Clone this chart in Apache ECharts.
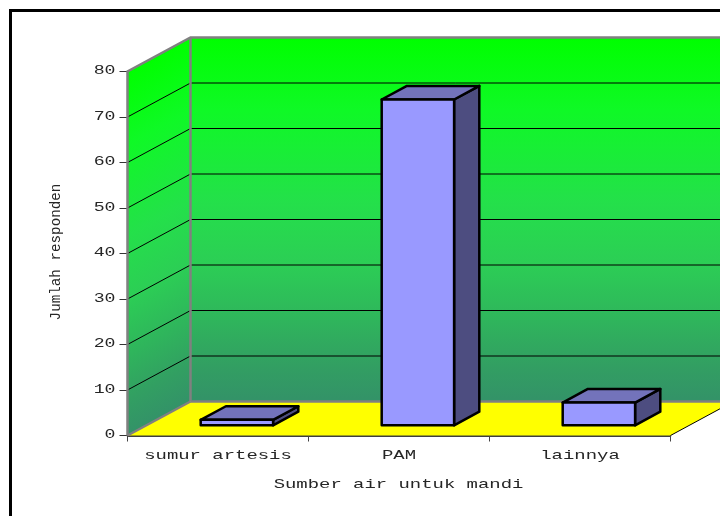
<!DOCTYPE html>
<html>
<head>
<meta charset="utf-8">
<style>html,body{margin:0;padding:0;background:#fff;overflow:hidden}#chart{width:720px;height:516px}</style>
<script src="https://cdn.jsdelivr.net/npm/echarts@6/dist/echarts.min.js"></script>
</head>
<body>
<div id="chart"></div>
<script>
// Water sources for bathing, number of respondents
var categories = ['sumur artesis', 'PAM', 'lainnya'];
var respondents = [1.2, 71.6, 5];
var valueTicks = [0, 10, 20, 30, 40, 50, 60, 70, 80];
var xTitle = 'Sumber air untuk mandi';
var yTitle = 'Jumlah responden';

// Oblique projection of the depth axis, in pixels
var DEPTH_X = 63, DEPTH_Y = -34;
var BAR_NEAR = 0.3, BAR_FAR = 0.7, BAR_WIDTH = 0.4;
var MONO = '"Liberation Mono", monospace';

function deep(p, t) { return [p[0] + DEPTH_X * t, p[1] + DEPTH_Y * t]; }

function face(points, fill, stroke, width) {
  return {
    type: 'polygon',
    shape: { points: points },
    style: { fill: fill, stroke: stroke || null, lineWidth: width || 0, lineJoin: 'round' }
  };
}

function stretched(text, x, y, size, scaleX, align, rotation) {
  return {
    type: 'text', x: x, y: y, scaleX: scaleX, rotation: rotation || 0,
    style: { text: text, x: 0, y: 0, align: align, verticalAlign: 'middle',
             font: size + 'px ' + MONO, fill: '#262626' }
  };
}

// Walls, floor and the grid lines wrapped around them
function renderRoom(params, api) {
  var band = api.size([1, 0])[0];
  var first = api.coord([0, 0]);
  var last = api.coord([categories.length - 1, 0]);
  var left = first[0] - band / 2, right = last[0] + band / 2;
  var maxTick = valueTicks[valueTicks.length - 1];
  var top = api.coord([0, maxTick])[1], bottom = first[1];
  var LG = echarts.graphic.LinearGradient;
  var stops = [
    { offset: 0, color: '#00ff00' },
    { offset: 0.2, color: '#0ff926' },
    { offset: 0.45, color: '#24e04a' },
    { offset: 0.62, color: '#2cce55' },
    { offset: 0.78, color: '#2fb45c' },
    { offset: 0.9, color: '#329f62' },
    { offset: 1, color: '#339268' }
  ];

  var a = [left, bottom], b = [left, top], c = deep(b, 1), d = deep(a, 1);
  var e = [right, bottom], f = deep(e, 1), g = deep([right, top], 1);

  // side wall gradient follows the slope of the depth axis
  var h = bottom - top;
  var len = Math.hypot(DEPTH_X, DEPTH_Y);
  var nx = -DEPTH_Y / len, ny = DEPTH_X / len, proj = h * ny;
  var sideFill = new LG(left, top, left + nx * proj, top + ny * proj, stops, true);
  var backFill = new LG(0, c[1], 0, d[1], stops, true);

  var kids = [
    face([a, b, c, d], sideFill),
    face([c, g, f, d], backFill),
    face([a, d, f, e], '#ffff00')
  ];
  valueTicks.slice(1, -1).forEach(function (v) {
    var y = api.coord([0, v])[1];
    var p = [left, y], q = deep(p, 1), r = deep([right, y], 1);
    kids.push({ type: 'polyline', shape: { points: [p, q, r] },
                style: { stroke: '#000', lineWidth: 1, fill: null } });
  });
  var gray = { stroke: '#808080', lineWidth: 2.5, fill: null };
  kids.push({ type: 'polyline', shape: { points: [a, b, c, g] }, style: gray });
  kids.push({ type: 'line', shape: { x1: c[0], y1: c[1], x2: d[0], y2: d[1] }, style: gray });
  kids.push({ type: 'line', shape: { x1: a[0], y1: a[1], x2: d[0], y2: d[1] }, style: gray });
  kids.push({ type: 'line', shape: { x1: d[0], y1: d[1], x2: f[0], y2: f[1] }, style: gray });
  kids.push({ type: 'line', shape: { x1: e[0], y1: e[1], x2: f[0], y2: f[1] },
              style: { stroke: '#000', lineWidth: 1 } });
  return { type: 'group', children: kids };
}

// One box per category: front, top and right faces
function renderBar(params, api) {
  var band = api.size([1, 0])[0];
  var base = api.coord([api.value(0), 0]);
  var tip = api.coord([api.value(0), api.value(1)]);
  var w = band * BAR_WIDTH / 2;
  var fl = deep([base[0] - w, base[1]], BAR_NEAR), fr = deep([base[0] + w, base[1]], BAR_NEAR);
  var tl = deep([base[0] - w, tip[1]], BAR_NEAR), tr = deep([base[0] + w, tip[1]], BAR_NEAR);
  var dt = BAR_FAR - BAR_NEAR;
  var bl = deep(tl, dt), br = deep(tr, dt), sb = deep(fr, dt);
  return {
    type: 'group',
    children: [
      face([tr, br, sb, fr], '#4d4d80', '#000', 2.5),
      face([tl, bl, br, tr], '#7373bb', '#000', 2.5),
      face([fl, tl, tr, fr], '#9999ff', '#000', 2.5)
    ]
  };
}

// Wide tick labels and axis titles
function renderLabels(params, api) {
  var band = api.size([1, 0])[0];
  var zero = api.coord([0, 0]);
  var axisX = zero[0] - band / 2;
  var kids = [];
  valueTicks.forEach(function (v) {
    kids.push(stretched(String(v), axisX - 12, api.coord([0, v])[1] - 0.5, 13, 1.4, 'right'));
  });
  categories.forEach(function (name, i) {
    kids.push(stretched(name, api.coord([i, 0])[0], zero[1] + 20, 13, 1.455, 'center'));
  });
  var mid = api.coord([1, 0])[0];
  kids.push(stretched(xTitle, mid - 0.5, zero[1] + 49, 13, 1.455, 'center'));
  kids.push(stretched(yTitle, 56, 252, 15, 0.95, 'center', Math.PI / 2));
  return { type: 'group', children: kids };
}

var chart = echarts.init(document.getElementById('chart'), null, { renderer: 'canvas' });
chart.setOption({
  animation: false,
  backgroundColor: '#ffffff',
  graphic: [{
    type: 'rect', x: 10.5, y: 10.5, z: 0,
    shape: { x: 0, y: 0, width: 800, height: 600 },
    style: { fill: null, stroke: '#000', lineWidth: 3 }
  }],
  grid: { left: 127.5, top: 71.5, width: 543, height: 364, containLabel: false },
  xAxis: {
    type: 'category', data: categories,
    axisLine: { lineStyle: { color: '#000', width: 1.5 } },
    axisTick: { show: true, length: 6, lineStyle: { color: '#444', width: 1 } },
    axisLabel: { show: false }, splitLine: { show: false }
  },
  yAxis: {
    type: 'value', min: 0, max: 80, interval: 10,
    axisLine: { show: true, lineStyle: { color: '#333', width: 1.5 } },
    axisTick: { show: true, length: 8, lineStyle: { color: '#333', width: 1 } },
    axisLabel: { show: false }, splitLine: { show: false }
  },
  series: [
    { type: 'custom', z: 1, silent: true, clip: false, data: [[0, 0]],
      encode: { x: 0, y: 1 }, renderItem: renderRoom },
    { type: 'custom', z: 3, silent: true, clip: false,
      data: respondents.map(function (v, i) { return [i, v]; }),
      encode: { x: 0, y: 1 }, renderItem: renderBar },
    { type: 'custom', z: 4, silent: true, clip: false, data: [[0, 0]],
      encode: { x: 0, y: 1 }, renderItem: renderLabels }
  ]
});
</script>
</body>
</html>
